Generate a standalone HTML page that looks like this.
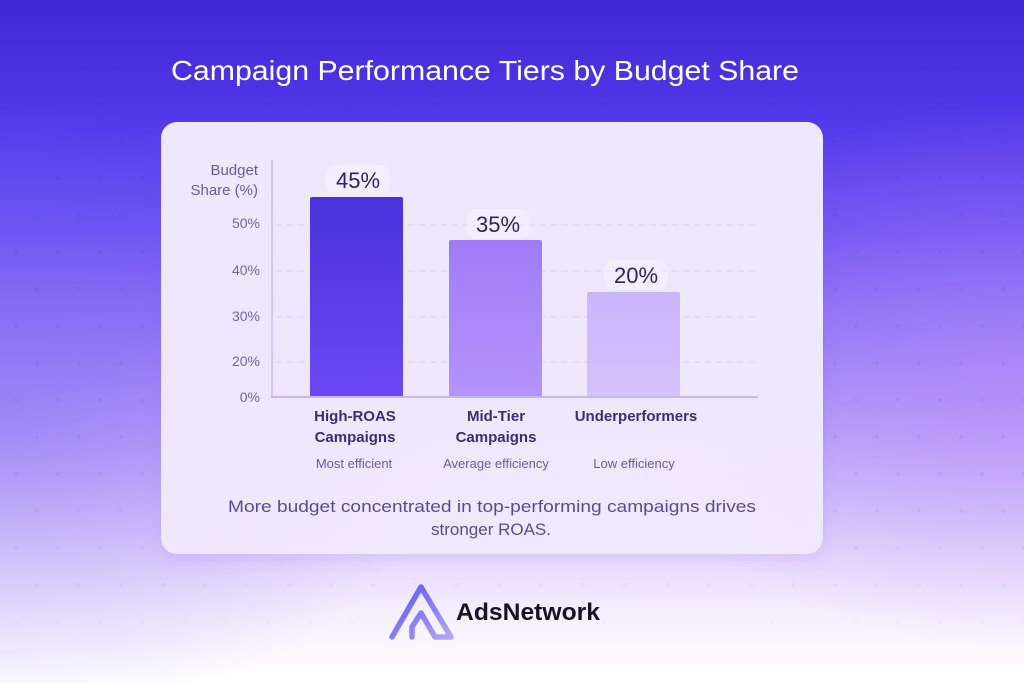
<!DOCTYPE html>
<html>
<head>
<meta charset="utf-8">
<style>
  html,body{margin:0;padding:0;width:1024px;height:683px;overflow:hidden;background:#fff;}
  svg{display:block;}
  text{font-family:"Liberation Sans", sans-serif;}
</style>
</head>
<body>
<svg width="1024" height="683" viewBox="0 0 1024 683" xmlns="http://www.w3.org/2000/svg">
  <defs>
    <linearGradient id="bg" x1="0" y1="0" x2="0" y2="1">
      <stop offset="0" stop-color="#4128d4"/>
      <stop offset="0.15" stop-color="#4f35e6"/>
      <stop offset="0.34" stop-color="#6c51f4"/>
      <stop offset="0.52" stop-color="#9c80f6"/>
      <stop offset="0.68" stop-color="#c8b1fa"/>
      <stop offset="0.80" stop-color="#e4d6fc"/>
      <stop offset="0.90" stop-color="#f5effd"/>
      <stop offset="1" stop-color="#ffffff"/>
    </linearGradient>
    <radialGradient id="glowL" cx="0" cy="0.6" r="0.45">
      <stop offset="0" stop-color="#7c6cf2" stop-opacity="0.45"/>
      <stop offset="1" stop-color="#7c6cf2" stop-opacity="0"/>
    </radialGradient>
    <radialGradient id="glowR" cx="1" cy="0.55" r="0.4">
      <stop offset="0" stop-color="#b48cf8" stop-opacity="0.5"/>
      <stop offset="1" stop-color="#b48cf8" stop-opacity="0"/>
    </radialGradient>
    <pattern id="dots" x="0" y="0" width="42" height="74" patternUnits="userSpaceOnUse">
      <circle cx="16" cy="30" r="2" fill="#3a1fb0" fill-opacity="0.09"/>
      <circle cx="37" cy="67" r="2" fill="#3a1fb0" fill-opacity="0.09"/>
    </pattern>
    <linearGradient id="dotFade" x1="0" y1="0" x2="0" y2="1">
      <stop offset="0" stop-color="#fff" stop-opacity="1"/>
      <stop offset="0.75" stop-color="#fff" stop-opacity="0.7"/>
      <stop offset="1" stop-color="#fff" stop-opacity="0"/>
    </linearGradient>
    <mask id="dm">
      <rect x="0" y="0" width="1024" height="683" fill="url(#dotFade)"/>
    </mask>
    <linearGradient id="card" x1="0" y1="0" x2="0" y2="1">
      <stop offset="0" stop-color="#f4effd"/>
      <stop offset="1" stop-color="#f1e9fc"/>
    </linearGradient>
    <linearGradient id="b1" x1="0" y1="0" x2="0" y2="1">
      <stop offset="0" stop-color="#4a31dc"/>
      <stop offset="1" stop-color="#6b48f6"/>
    </linearGradient>
    <linearGradient id="b2" x1="0" y1="0" x2="0" y2="1">
      <stop offset="0" stop-color="#9f7cf7"/>
      <stop offset="1" stop-color="#b494fa"/>
    </linearGradient>
    <linearGradient id="b3" x1="0" y1="0" x2="0" y2="1">
      <stop offset="0" stop-color="#cab5fb"/>
      <stop offset="1" stop-color="#d4c2fc"/>
    </linearGradient>
    <linearGradient id="logo" x1="0" y1="0" x2="1" y2="1">
      <stop offset="0" stop-color="#5a52ef"/>
      <stop offset="1" stop-color="#b3a6f6"/>
    </linearGradient>
    <filter id="sh" x="-10%" y="-10%" width="120%" height="130%">
      <feGaussianBlur stdDeviation="8"/>
    </filter>
  </defs>

  <!-- background -->
  <rect x="0" y="0" width="1024" height="683" fill="url(#bg)"/>
  <rect x="0" y="0" width="1024" height="683" fill="url(#glowL)"/>
  <rect x="0" y="0" width="1024" height="683" fill="url(#glowR)"/>
  <rect x="0" y="0" width="1024" height="683" fill="url(#dots)" mask="url(#dm)"/>

  <!-- title -->
  <text x="485" y="80" text-anchor="middle" font-size="28" fill="#ffffff" textLength="628" lengthAdjust="spacingAndGlyphs">Campaign Performance Tiers by Budget Share</text>

  <!-- card -->
  <rect x="163" y="128" width="660" height="430" rx="16" fill="#6a4fd0" fill-opacity="0.15" filter="url(#sh)"/>
  <rect x="161" y="122" width="662" height="432" rx="16" fill="url(#card)" fill-opacity="0.96"/>

  <!-- axis title -->
  <text x="258" y="175" text-anchor="end" font-size="15" fill="#6a5aa8">Budget</text>
  <text x="258" y="195" text-anchor="end" font-size="15" fill="#6a5aa8">Share (%)</text>

  <!-- gridlines -->
  <g stroke="#dcd0f6" stroke-width="1" stroke-dasharray="6 5">
    <line x1="276" y1="225" x2="760" y2="225"/>
    <line x1="276" y1="271" x2="760" y2="271"/>
    <line x1="276" y1="317" x2="760" y2="317"/>
    <line x1="276" y1="362" x2="760" y2="362"/>
  </g>

  <!-- y ticks -->
  <g font-size="14" fill="#7262b0" text-anchor="end">
    <text x="260" y="228">50%</text>
    <text x="260" y="275">40%</text>
    <text x="260" y="321">30%</text>
    <text x="260" y="366">20%</text>
    <text x="260" y="402">0%</text>
  </g>

  <!-- bars -->
  <rect x="310" y="197" width="93" height="200" rx="2" fill="url(#b1)"/>
  <rect x="449" y="240" width="93" height="157" rx="2" fill="url(#b2)"/>
  <rect x="587" y="292" width="93" height="105" rx="2" fill="url(#b3)"/>

  <!-- axes -->
  <line x1="272" y1="160" x2="272" y2="398" stroke="#d3c6f7" stroke-width="2"/>
  <line x1="271" y1="397" x2="758" y2="397" stroke="#c6b6f8" stroke-width="2"/>

  <!-- value pills -->
  <rect x="326" y="165" width="64" height="30" rx="10" fill="#ffffff" fill-opacity="0.3"/>
  <rect x="466" y="209" width="64" height="30" rx="10" fill="#ffffff" fill-opacity="0.3"/>
  <rect x="604" y="260" width="64" height="30" rx="10" fill="#ffffff" fill-opacity="0.3"/>
  <g font-size="22" fill="#2f2366" text-anchor="middle">
    <text x="358" y="188">45%</text>
    <text x="498" y="232">35%</text>
    <text x="636" y="283">20%</text>
  </g>

  <!-- category labels -->
  <g font-size="15" font-weight="bold" fill="#3a2d7a" text-anchor="middle">
    <text x="355" y="421">High-ROAS</text>
    <text x="355" y="442">Campaigns</text>
    <text x="496" y="421">Mid-Tier</text>
    <text x="496" y="442">Campaigns</text>
    <text x="636" y="421">Underperformers</text>
  </g>
  <g font-size="13" fill="#6a5aa8" text-anchor="middle">
    <text x="354" y="468">Most efficient</text>
    <text x="496" y="468">Average efficiency</text>
    <text x="634" y="468">Low efficiency</text>
  </g>

  <!-- caption -->
  <g font-size="17" fill="#5a4a9a" text-anchor="middle">
    <text x="492" y="512" textLength="528" lengthAdjust="spacingAndGlyphs">More budget concentrated in top-performing campaigns drives</text>
    <text x="491" y="535">stronger ROAS.</text>
  </g>

  <!-- logo -->
  <path d="M392 637 L421 587 L451 637 L435 637 L421 613 L412 627 L412 637" fill="none" stroke="url(#logo)" stroke-width="5.5" stroke-linejoin="round" stroke-linecap="round"/>
  <text x="456" y="620" font-size="24" font-weight="bold" fill="#161228" textLength="144" lengthAdjust="spacingAndGlyphs">AdsNetwork</text>
</svg>
</body>
</html>
